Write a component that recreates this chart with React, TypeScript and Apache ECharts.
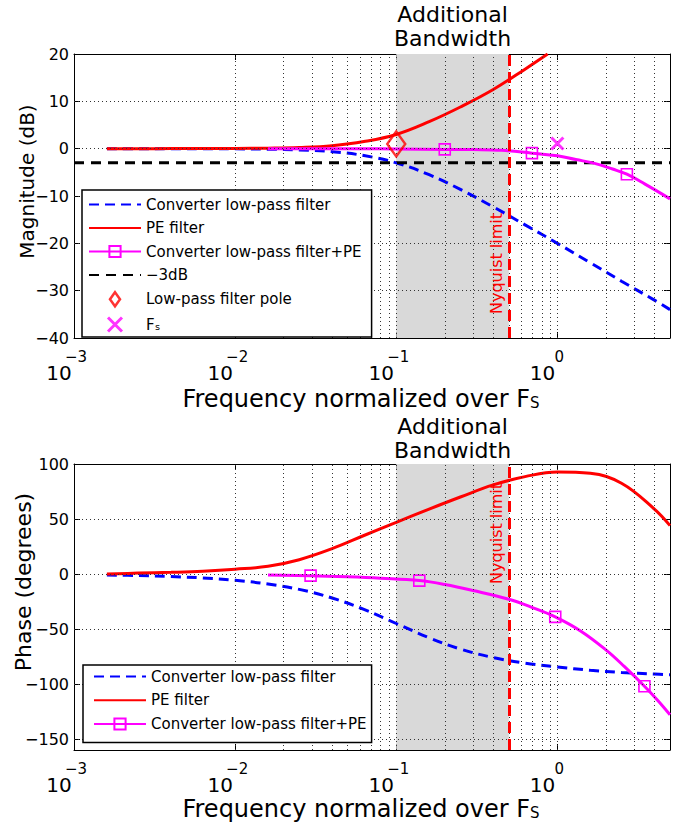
import React, { useEffect, useRef } from 'react';
import * as echarts from 'echarts';

const FONT = '"DejaVu Sans", Verdana, sans-serif';

// ---- tick labels ----
const xTickValues = [0.001, 0.01, 0.1, 1];
const xTickExponents = ['−3', '−2', '−1', '0'];
const magTickValues = [-40, -30, -20, -10, 0, 10, 20];
const magTickLabels = ['−40', '−30', '−20', '−10', '0', '10', '20'];
const phaseTickValues = [-150, -100, -50, 0, 50, 100];
const phaseTickLabels = ['−150', '−100', '−50', '0', '50', '100'];

// ---- shared frequency grid for the filter curves ----
const freq = [0.0016, 0.0025, 0.004, 0.0063, 0.01, 0.016, 0.025, 0.04, 0.063, 0.1, 0.16, 0.25, 0.4, 0.63, 1, 1.6, 2.5, 4, 5];

// ---- magnitude plot (dB) ----
const lpfMag = [0, 0, -0.01, -0.02, -0.04, -0.11, -0.26, -0.64, -1.46, -3.0, -5.5, -8.6, -12.3, -16.1, -20.0, -24.1, -28.0, -32.0, -34.0];
const freqPeMag = [0.0016, 0.0025, 0.004, 0.0063, 0.01, 0.016, 0.025, 0.04, 0.063, 0.1, 0.16, 0.25, 0.4, 0.63, 0.87];
const peMag = [0, 0, 0.01, 0.02, 0.04, 0.11, 0.26, 0.64, 1.5, 3.0, 5.7, 8.8, 12.5, 16.8, 20];
const freqCombMag = [0.016, 0.025, 0.04, 0.063, 0.1, 0.2, 0.3, 0.45, 0.695, 1, 1.3, 1.7, 2.2, 2.7, 3.5, 5];
const combMag = [0, 0, 0, -0.02, -0.05, -0.15, -0.2, -0.35, -0.95, -1.5, -2.3, -3.1, -4.3, -5.4, -7.5, -10.6];
const combMagMarkers = [0.2, 0.695, 2.7];
const minus3dBFreq = [0.001, 5];
const minus3dB = [-3, -3];
const poleFreq = [0.1];
const poleMag = [1.0];
const fsFreq = [1];
const fsMag = [1.1];

// ---- phase plot (degrees) ----
const lpfPhase = [-0.9, -1.4, -2.3, -3.6, -5.7, -9.1, -14, -21.8, -32.2, -45, -58, -68.2, -76, -81, -84.5, -87.5, -89.5, -91, -91.7];
const pePhase = [0, 0.8, 1.5, 2.5, 4.3, 7, 13, 23, 35, 47, 59, 70, 81, 88.5, 92.8, 91.5, 82.5, 59, 44];
const freqCombPhase = [0.016, 0.0294, 0.05, 0.08, 0.139, 0.2, 0.3, 0.5, 0.7, 0.97, 1.4, 2, 2.6, 3.47, 4.2, 5];
const combPhase = [-1, -1.5, -2.5, -3.8, -6, -9.5, -15, -23, -30.5, -39, -52, -69, -84, -102, -115, -128];
const combPhaseMarkers = [0.0294, 0.139, 0.97, 3.47];

const nyquist = 0.5;
const bandStart = 0.1;

const NAME_LPF = 'Converter low-pass filter';
const NAME_PE = 'PE filter';
const NAME_COMB = 'Converter low-pass filter+PE';
const NAME_3DB = '−3dB';
const NAME_POLE = 'Low-pass filter pole';
const NAME_FS = 'F\u209B';

const zip = (xs: number[], ys: number[]) => xs.map((x, i) => [x, ys[i]]);

const decadeIndex = (v: number) =>
  xTickValues.findIndex((t) => Math.abs(Math.log10(v) - Math.log10(t)) < 1e-6);

const verticalGrid: number[] = [];
[0.001, 0.01, 0.1, 1].forEach((d) => {
  for (let m = 1; m <= 9; m++) {
    const v = +(d * m).toPrecision(3);
    if (v > 0.0010001 && v < 5) verticalGrid.push(v);
  }
});

const NO_SYMBOL = { color: 'rgba(0,0,0,0)', borderColor: 'rgba(0,0,0,0)', borderWidth: 0 };

function buildOption() {
  const xAxis = (gridIndex: number, top: boolean, withName: boolean) => ({
    type: 'log',
    logBase: 10,
    min: 0.001,
    max: 5,
    gridIndex,
    position: top ? 'top' : 'bottom',
    axisLine: { show: true, onZero: false, lineStyle: { color: '#000', width: 1 } },
    axisTick: { show: true, inside: true, length: 6, lineStyle: { color: '#000', width: 1 } },
    splitLine: { show: false },
    minorTick: { show: false },
    minorSplitLine: { show: false },
    axisLabel: top
      ? { show: false }
      : {
          show: true,
          margin: 11,
          hideOverlap: false,
          color: '#000',
          formatter: (v: number) => {
            const i = decadeIndex(v);
            return i < 0 ? '' : `{e|${xTickExponents[i]}}\n{b|10}`;
          },
          rich: {
            e: { fontSize: 15, lineHeight: 16, align: 'center', padding: [0, 0, 0, 4], fontFamily: FONT, color: '#000' },
            b: { fontSize: 20, lineHeight: 16, align: 'center', padding: [0, 30, 0, 0], fontFamily: FONT, color: '#000' },
          },
        },
    name: withName ? 'Frequency normalized over F{sub|S}' : '',
    nameLocation: 'middle',
    nameGap: gridIndex === 0 ? 50 : 48,
    nameMoveOverlap: false,
    nameTextStyle: {
      fontSize: 24,
      lineHeight: 22,
      color: '#000',
      fontFamily: FONT,
      padding: [0, 22, 0, 0],
      rich: { sub: { fontSize: 15, lineHeight: 10, verticalAlign: 'bottom', fontFamily: FONT, color: '#000' } },
    },
  });

  const yAxis = (
    gridIndex: number,
    right: boolean,
    min: number,
    max: number,
    ticks: number[],
    labels: string[],
    name: string,
    nameSize: number,
    nameGap: number,
    shift: number
  ) => ({
    type: 'value',
    gridIndex,
    min,
    max,
    position: right ? 'right' : 'left',
    axisLine: { show: true, onZero: false, lineStyle: { color: '#000', width: 1 } },
    axisTick: { show: true, inside: true, length: 6, customValues: ticks, lineStyle: { color: '#000', width: 1 } },
    splitLine: { show: false },
    axisLabel: right
      ? { show: false }
      : {
          show: true,
          customValues: ticks,
          margin: 5,
          fontSize: 16,
          color: '#000',
          fontFamily: FONT,
          formatter: (v: number) => {
            const i = ticks.indexOf(v);
            return i < 0 ? '' : labels[i];
          },
        },
    name: right ? '' : name,
    nameLocation: 'middle',
    nameGap,
    nameMoveOverlap: false,
    nameTextStyle: { fontSize: nameSize, color: '#000', fontFamily: FONT, padding: [0, 0, 0, shift] },
  });

  const bandSeries = (xi: number, yi: number, dist: number) => ({
    type: 'line',
    xAxisIndex: xi,
    yAxisIndex: yi,
    data: [],
    silent: true,
    z: 1,
    markArea: {
      silent: true,
      itemStyle: { color: '#d9d9d9', opacity: 1 },
      label: {
        show: true,
        position: 'top',
        distance: dist,
        formatter: 'Additional\nBandwidth',
        fontSize: 22,
        lineHeight: 24,
        color: '#000',
        fontFamily: FONT,
      },
      data: [[{ xAxis: bandStart }, { xAxis: nyquist }]],
    },
  });

  const gridSeries = (xi: number, yi: number, hLines: number[]) => ({
    type: 'line',
    xAxisIndex: xi,
    yAxisIndex: yi,
    data: [],
    silent: true,
    z: 2,
    markLine: {
      silent: true,
      symbol: ['none', 'none'],
      label: { show: false },
      emphasis: { disabled: true },
      lineStyle: { color: '#333', width: 1, type: [1, 3] },
      data: [...verticalGrid.map((v) => ({ xAxis: v })), ...hLines.map((v) => ({ yAxis: v }))],
    },
  });

  const nyquistSeries = (xi: number, yi: number, along: number) => ({
    type: 'line',
    xAxisIndex: xi,
    yAxisIndex: yi,
    data: [],
    silent: true,
    z: 6,
    markLine: {
      silent: true,
      symbol: ['none', 'none'],
      emphasis: { disabled: true },
      lineStyle: { color: '#ff0000', width: 3, type: [11, 6] },
      label: {
        show: true,
        formatter: 'Nyquist limit',
        position: 'insideStartTop',
        distance: [along, 4],
        color: '#ff0000',
        fontSize: 16,
        fontFamily: FONT,
      },
      data: [{ xAxis: nyquist }],
    },
  });

  const plainLine = (name: string, xi: number, yi: number, xs: number[], ys: number[], color: string, dashed: boolean) => ({
    name,
    type: 'line',
    xAxisIndex: xi,
    yAxisIndex: yi,
    data: zip(xs, ys),
    symbol: 'none',
    smooth: 0.4,
    lineStyle: { color, width: 3, type: dashed ? [10, 6] : 'solid' },
    itemStyle: { color },
    emphasis: { disabled: true },
    z: 3,
  });

  const combLine = (xi: number, yi: number, xs: number[], ys: number[], markers: number[]) => ({
    name: NAME_COMB,
    type: 'line',
    xAxisIndex: xi,
    yAxisIndex: yi,
    data: xs.map((x, i) => ({ value: [x, ys[i]], symbol: markers.includes(x) ? 'rect' : 'none' })),
    symbol: 'rect',
    symbolSize: 11,
    showSymbol: true,
    showAllSymbol: true,
    smooth: 0.4,
    lineStyle: { color: '#ff00ff', width: 3 },
    itemStyle: { color: 'rgba(255,255,255,0)', borderColor: '#ff00ff', borderWidth: 1.6 },
    emphasis: { disabled: true },
    z: 4,
  });

  const legendBase = (top: number, left: number, pad: number[], gap: number, names: any[]) => ({
    orient: 'vertical',
    left,
    top,
    z: 20,
    itemWidth: 52,
    itemHeight: 14,
    itemGap: gap,
    padding: pad,
    backgroundColor: '#fff',
    borderColor: '#000',
    borderWidth: 1.5,
    borderRadius: 0,
    selectedMode: false,
    textStyle: { fontSize: 15, color: '#000', fontFamily: FONT },
    data: names,
  });

  return {
    animation: false,
    backgroundColor: '#fff',
    textStyle: { fontFamily: FONT },
    grid: [
      { left: 74, top: 54, width: 596, height: 284, outerBoundsMode: 'none', containLabel: false },
      { left: 74, top: 464, width: 596, height: 286, outerBoundsMode: 'none', containLabel: false },
    ],
    xAxis: [xAxis(0, false, true), xAxis(0, true, false), xAxis(1, false, true), xAxis(1, true, false)],
    yAxis: [
      yAxis(0, false, -40, 20, magTickValues, magTickLabels, 'Magnitude (dB)', 20, 37, 29),
      yAxis(0, true, -40, 20, magTickValues, magTickLabels, '', 20, 37, 0),
      yAxis(1, false, -160, 100, phaseTickValues, phaseTickLabels, 'Phase (degrees)', 22, 40, 50),
      yAxis(1, true, -160, 100, phaseTickValues, phaseTickLabels, '', 22, 40, 0),
    ],
    legend: [
      legendBase(190, 82, [7, 10, 4, 6], 8.5, [
        { name: NAME_LPF, itemStyle: NO_SYMBOL },
        { name: NAME_PE, itemStyle: NO_SYMBOL },
        NAME_COMB,
        { name: NAME_3DB, itemStyle: NO_SYMBOL },
        {
          name: NAME_POLE,
          icon: 'path://M5,0L10,7L5,14L0,7Z',
          itemStyle: { color: 'rgba(255,255,255,0)', borderColor: '#ff0000', borderWidth: 2.5 },
        },
        { name: NAME_FS, itemStyle: { color: 'rgba(255,255,255,0)', borderColor: '#ff00ff', borderWidth: 3 } },
      ]),
      legendBase(665, 83, [4, 5, 11, 10], 8.75, [
        { name: NAME_LPF, itemStyle: NO_SYMBOL },
        { name: NAME_PE, itemStyle: NO_SYMBOL },
        NAME_COMB,
      ]),
    ],
    series: [
      // ---- magnitude ----
      bandSeries(0, 0, 4),
      gridSeries(0, 0, [-30, -20, -10, 0, 10]),
      plainLine(NAME_LPF, 0, 0, freq, lpfMag, '#0000ff', true),
      plainLine(NAME_PE, 0, 0, freqPeMag, peMag, '#ff0000', false),
      combLine(0, 0, freqCombMag, combMag, combMagMarkers),
      {
        name: NAME_3DB,
        type: 'line',
        xAxisIndex: 0,
        yAxisIndex: 0,
        data: zip(minus3dBFreq, minus3dB),
        symbol: 'none',
        lineStyle: { color: '#000', width: 3, type: [10, 7] },
        itemStyle: { color: '#000' },
        emphasis: { disabled: true },
        z: 3,
      },
      {
        name: NAME_POLE,
        type: 'scatter',
        xAxisIndex: 0,
        yAxisIndex: 0,
        data: zip(poleFreq, poleMag),
        symbol: 'diamond',
        symbolSize: [18, 25],
        itemStyle: { color: 'rgba(255,255,255,0)', borderColor: '#ff0000', borderWidth: 2.5 },
        emphasis: { disabled: true },
        z: 7,
      },
      {
        name: NAME_FS,
        type: 'scatter',
        xAxisIndex: 0,
        yAxisIndex: 0,
        data: zip(fsFreq, fsMag),
        symbol: 'path://M0,0L10,10M10,0L0,10',
        symbolSize: 12,
        itemStyle: { color: 'rgba(255,255,255,0)', borderColor: '#ff00ff', borderWidth: 3 },
        emphasis: { disabled: true },
        z: 7,
      },
      nyquistSeries(0, 0, 24),
      // ---- phase ----
      bandSeries(2, 2, 2),
      gridSeries(2, 2, [-150, -100, -50, 0, 50]),
      plainLine(NAME_LPF, 2, 2, freq, lpfPhase, '#0000ff', true),
      plainLine(NAME_PE, 2, 2, freq, pePhase, '#ff0000', false),
      combLine(2, 2, freqCombPhase, combPhase, combPhaseMarkers),
      nyquistSeries(2, 2, 166),
    ],
  };
}

export default function App() {
  const ref = useRef<HTMLDivElement>(null);
  useEffect(() => {
    const chart = echarts.init(ref.current!, undefined, { renderer: 'svg' });
    chart.setOption(buildOption() as any);
    return () => chart.dispose();
  }, []);
  return (
    <div
      ref={ref}
      style={{ position: 'absolute', left: 0, top: 0, width: 689, height: 823, background: '#fff' }}
    />
  );
}
